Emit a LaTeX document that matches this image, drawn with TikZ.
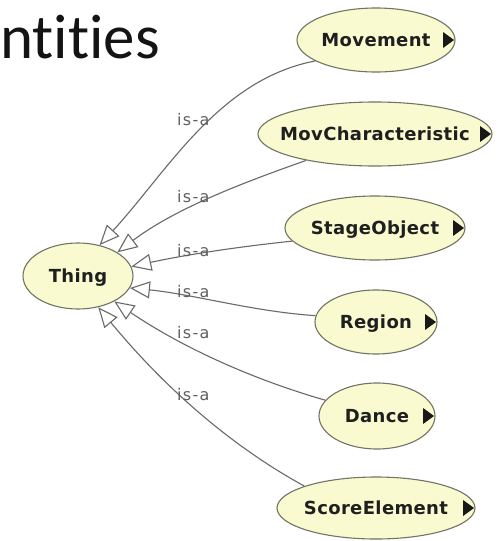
\documentclass[tikz,border=0pt]{standalone}
\usepackage{fontspec}
\setmainfont{DejaVu Sans}
\newfontfamily\titlefont[Ligatures=NoCommon]{Carlito}
\newfontfamily\classfont[LetterSpace=2]{DejaVu Sans}
\newfontfamily\relfont[LetterSpace=8]{DejaVu Sans}
\usetikzlibrary{shapes.geometric,arrows.meta}

\definecolor{clsfill}{RGB}{250,250,208}
\definecolor{clsline}{RGB}{115,115,100}
\definecolor{edgegray}{RGB}{105,105,105}
\definecolor{relgray}{RGB}{95,95,95}

\begin{document}
\begin{tikzpicture}[x=1pt,y=-1pt,
  cls/.style={ellipse, draw=clsline, line width=1.1pt, fill=clsfill,
    inner sep=0pt, label={[clstext]center:#1}},
  clstext/.style={font=\classfont\bfseries\fontsize{18}{18}\selectfont,
    text=black!88, text height=13pt, text depth=0pt, inner sep=0pt},
  more/.style={fill=black!90},
  isa/.style={draw=edgegray, line width=1.1pt,
    -{Triangle[length=20pt,width=17pt,fill=white]}},
  rel/.style={font=\relfont\fontsize{16}{16}\selectfont, text=relgray,
    anchor=base west, inner sep=0pt},
  heading/.style={font=\titlefont\fontsize{63}{63}\selectfont,
    text=black!92, anchor=base west, inner sep=0pt}]

\useasboundingbox (0,0) rectangle (503,541);
\fill[white] (0,0) rectangle (503,541);

% heading fragment
\node[heading] (title) at (0,58) {ntities};

% classes
\node[cls=Thing, minimum width=110pt, minimum height=66pt] (thing) at (78,276) {};
\node[cls=Movement, minimum width=158pt, minimum height=64pt] (mov) at (376,40) {};
\node[cls=MovCharacteristic, minimum width=234pt, minimum height=64pt] (movc) at (375,134) {};
\node[cls=StageObject, minimum width=180pt, minimum height=64pt] (stage) at (375,228) {};
\node[cls=Region, minimum width=122pt, minimum height=64pt] (region) at (376,322) {};
\node[cls=Dance, minimum width=116pt, minimum height=66pt] (dance) at (377,416) {};
\node[cls=ScoreElement, minimum width=198pt, minimum height=62pt] (score) at (376,508) {};

% expand markers
\foreach \n in {mov,movc,stage,region,dance,score}
  \fill[more] ([xshift=-1.5pt]\n.east) -- ++(-11,-8) -- ++(0,16) -- cycle;

% subclass edges
\draw[isa] (mov.199) .. controls +(-96.5,18.6) and +(68,-73.8) .. (thing.55);
\draw[isa] (movc.201) .. controls +(-66.3,23.3) and +(56.7,-43.1) .. (thing.31);
\draw[isa] (stage.189) .. controls +(-54.4,5.7) and +(53.4,-11.7) .. (thing.10);
\draw[isa] (region.174) .. controls +(-62,-4) and +(62,6) .. (thing.-13);
\draw[isa] (dance.163) .. controls +(-76,-21.8) and +(65.4,44.4) .. (thing.-35);
\draw[isa] (score.163) .. controls +(-81.9,-44.9) and +(58.8,71.3) .. (thing.-57);

% edge labels
\node[rel] (l1) at (177,125) {is-a};
\node[rel] (l2) at (177,202) {is-a};
\node[rel] (l3) at (177,256) {is-a};
\node[rel] (l4) at (177,297) {is-a};
\node[rel] (l5) at (177,338) {is-a};
\node[rel] (l6) at (177,400) {is-a};
\end{tikzpicture}
\end{document}
